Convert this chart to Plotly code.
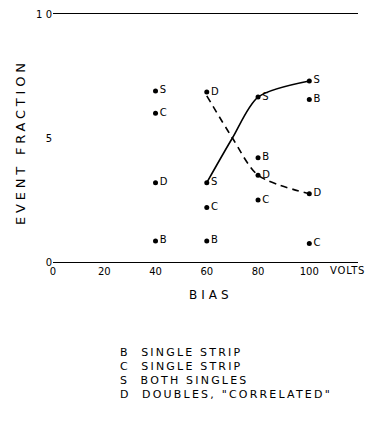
import plotly.graph_objects as go

# ---- data ----
bias = [40, 60, 80, 100]
frac_B = [0.085, 0.085, 0.42, 0.655]   # single strip (B)
frac_C = [0.60, 0.22, 0.25, 0.075]     # single strip (C)
frac_S = [0.69, 0.32, 0.665, 0.73]     # both singles
frac_D = [0.32, 0.685, 0.35, 0.275]    # doubles, correlated

curve_x = [60, 70, 80, 100]
curve_S = [0.32, 0.50, 0.665, 0.73]
curve_D = [0.67, 0.50, 0.35, 0.275]

x_ticks = [0, 20, 40, 60, 80, 100]
x_labels = ["0", "20", "40", "60", "80", "100"]
y_ticks = [0, 0.5, 1.0]
y_labels = ["0", "5", "1 0"]

legend_lines = ["B  SINGLE STRIP", "C  SINGLE STRIP", "S  BOTH SINGLES", 'D  DOUBLES, "CORRELATED"']

FONT = "DejaVu Sans"
OFF = 8  # page body margin offset


def spaced(s, px):
    return '<span style="letter-spacing:%spx">%s</span>' % (px, s)


fig = go.Figure()

fig.add_trace(go.Scatter(x=curve_x, y=curve_S, mode="lines",
                         line=dict(color="black", width=1.6, shape="spline", smoothing=0.8),
                         hoverinfo="skip", showlegend=False))
fig.add_trace(go.Scatter(x=curve_x, y=curve_D, mode="lines",
                         line=dict(color="black", width=1.6, dash="7px,5px", shape="spline", smoothing=0.8),
                         hoverinfo="skip", showlegend=False))

for letter, vals in [("B", frac_B), ("C", frac_C), ("S", frac_S), ("D", frac_D)]:
    fig.add_trace(go.Scatter(x=bias, y=vals, mode="markers+text",
                             text=[letter] * len(vals), textposition="middle right",
                             textfont=dict(family=FONT, size=10, color="black"),
                             marker=dict(color="black", size=5),
                             showlegend=False))

# target plot area on the page: x 53..358, y 14..262
L = 53 - OFF
T = 14 - OFF
R = 379 - (358 - OFF)
B = 421 - (262 - OFF)
W = 379 - L - R
H = 421 - T - B
fig.update_layout(
    width=379, height=421,
    margin=dict(l=L, r=R, t=T, b=B, autoexpand=False),
    paper_bgcolor="white", plot_bgcolor="white",
    font=dict(family=FONT, size=10, color="black"),
    xaxis=dict(range=[0, 119], tickvals=x_ticks, ticktext=x_labels, automargin=False,
               showgrid=False, zeroline=False, showline=True, mirror=True,
               linecolor="black", linewidth=1.2, ticks="", ticklen=0,
               tickfont=dict(family=FONT, size=10)),
    yaxis=dict(range=[0, 1.0], tickvals=y_ticks, ticktext=y_labels, automargin=False,
               showgrid=False, zeroline=False, showline=False, ticks="",
               tickfont=dict(family=FONT, size=10)),
)


def px_to_paper(px, py):
    # page pixel -> paper coords
    return (px - OFF - L) / W, (421 - B - (py - OFF)) / H


anns = []
x0, y0 = px_to_paper(328, 270)
anns.append(dict(text=spaced("VOLTS", 0.8), x=x0, y=y0, xref="paper", yref="paper",
                 xanchor="left", yanchor="middle", showarrow=False,
                 font=dict(family=FONT, size=10)))
x0, y0 = px_to_paper(211, 295)
anns.append(dict(text=spaced("BIAS", 4), x=x0, y=y0, xref="paper", yref="paper",
                 xanchor="center", yanchor="middle", showarrow=False,
                 font=dict(family=FONT, size=12)))
x0, y0 = px_to_paper(20, 142)
anns.append(dict(text=spaced("EVENT FRACTION", 3.8), x=x0, y=y0, xref="paper", yref="paper",
                 xanchor="center", yanchor="middle", textangle=-90, showarrow=False,
                 font=dict(family=FONT, size=13)))
for i, line in enumerate(legend_lines):
    x0, y0 = px_to_paper(118, 352 + i * 14.3)
    anns.append(dict(text=spaced(line, 2.2), x=x0, y=y0,
                     xref="paper", yref="paper", xanchor="left", yanchor="middle",
                     showarrow=False, font=dict(family=FONT, size=11)))
fig.update_layout(annotations=anns)

fig.write_html("out.html")
